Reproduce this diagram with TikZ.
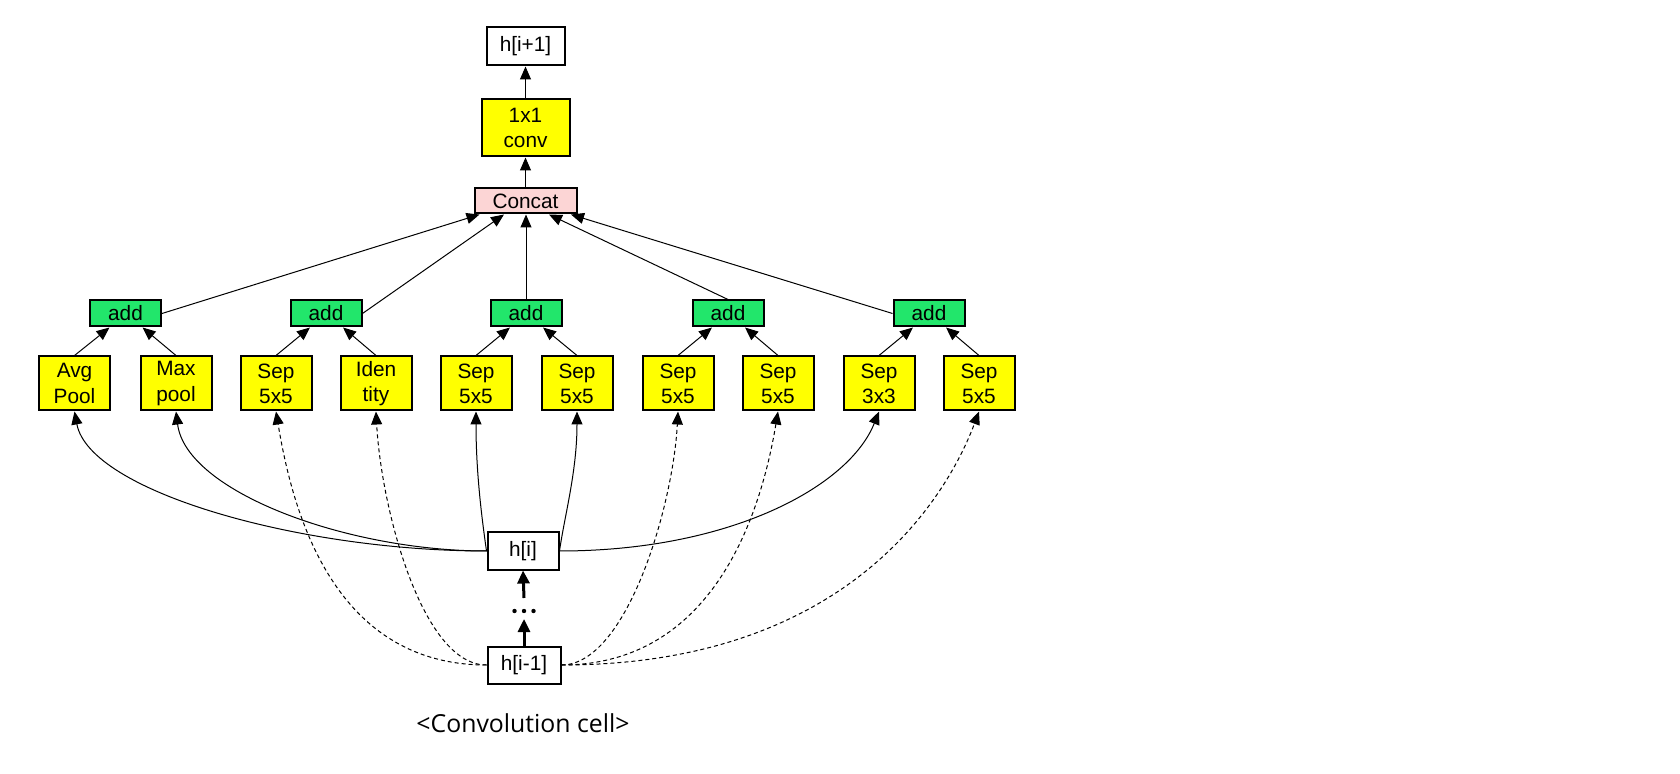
\documentclass[tikz,border=0pt]{standalone}
\usepackage{fontspec}
\setmainfont{Liberation Sans}
\newfontfamily\capfont{Open Sans}
\usetikzlibrary{arrows.meta,calc}
\definecolor{opyellow}{RGB}{255,255,0}
\definecolor{addgreen}{RGB}{34,230,107}
\definecolor{catpink}{RGB}{252,213,213}
\begin{document}
\begin{tikzpicture}[x=0.5pt,y=-0.5pt,
  box/.style={draw, line width=1pt, inner sep=0pt, align=center, font=\fontsize{10.4}{12.6}\selectfont},
  opbox/.style={box, fill=opyellow, minimum width=35.5pt, minimum height=27pt},
  addbox/.style={box, fill=addgreen, minimum width=35.5pt, minimum height=13pt},
  arr/.style={-{Triangle[length=6.5pt,width=5.5pt]}, line width=0.5pt},
  darr/.style={arr, dash pattern=on 2pt off 1.5pt},
  tarr/.style={-{Triangle[length=6.5pt,width=6pt]}, line width=1.5pt}
]
\useasboundingbox (0,0) rectangle (1680,774);

\node[box, minimum width=39pt, minimum height=19pt] (hip) at (525.5,46.5) {h[i+1]};
\node[box, fill=opyellow, minimum width=44pt, minimum height=28.5pt] (conv) at (525.5,128) {1x1\\conv};
\node[box, fill=catpink, minimum width=51pt, minimum height=12.5pt] (cat) at (525.5,201) {Concat};

\node[addbox] (a1) at (125.5,313.5) {add};
\node[addbox] (a2) at (326,313.5) {add};
\node[addbox] (a3) at (526,313.5) {add};
\node[addbox] (a4) at (728,313.5) {add};
\node[addbox] (a5) at (929,313.5) {add};

\node[opbox] (o1) at (74.5,383.5) {Avg\\Pool};
\node[opbox] (o2) at (176,383.5) {Max\\pool};
\node[opbox] (o3) at (276,383.5) {Sep\\5x5};
\node[opbox] (o4) at (376,383.5) {Iden\\tity};
\node[opbox] (o5) at (476,383.5) {Sep\\5x5};
\node[opbox] (o6) at (577,383.5) {Sep\\5x5};
\node[opbox] (o7) at (678,383.5) {Sep\\5x5};
\node[opbox] (o8) at (778,383.5) {Sep\\5x5};
\node[opbox] (o9) at (879,383.5) {Sep\\3x3};
\node[opbox] (o10) at (979,383.5) {Sep\\5x5};

\node[box, minimum width=35.5pt, minimum height=18.5pt] (hi) at (523,551) {h[i]};
\node[box, minimum width=36.5pt, minimum height=18.5pt] (him) at (524,665) {h[i-1]};

\node[font=\capfont\fontsize{12.4}{15}\selectfont] (cap) at (523,723) {<Convolution cell>};

% top chain
\draw[arr] (conv.north) -- (hip.south);
\draw[arr] (cat.north) -- (conv.south);

% adds to concat
\draw[arr] (a1.east) -- ($(cat.south)+(-46,0)$);
\draw[arr] (a2.east) -- ($(cat.south)+(-21.5,0)$);
\draw[arr] (a3.north) -- ($(cat.south)+(0.5,0)$);
\draw[arr] (a4.north) -- ($(cat.south)+(23.5,0)$);
\draw[arr] (a5.west) -- ($(cat.south)+(45.5,0)$);

% ops to adds
\draw[arr] (o1.north) -- ($(a1.south)+(-16,0)$);
\draw[arr] (o2.north) -- ($(a1.south)+(17,0)$);
\draw[arr] (o3.north) -- ($(a2.south)+(-16,0)$);
\draw[arr] (o4.north) -- ($(a2.south)+(17,0)$);
\draw[arr] (o5.north) -- ($(a3.south)+(-16,0)$);
\draw[arr] (o6.north) -- ($(a3.south)+(17,0)$);
\draw[arr] (o7.north) -- ($(a4.south)+(-16,0)$);
\draw[arr] (o8.north) -- ($(a4.south)+(17,0)$);
\draw[arr] (o9.north) -- ($(a5.south)+(-16,0)$);
\draw[arr] (o10.north) -- ($(a5.south)+(17,0)$);

% solid curves from h[i]
\draw[arr] (hi.west) .. controls +(-187,0) and +(15,80) .. (o1.south);
\draw[arr] (hi.west) .. controls +(-140,0) and +(10,80) .. (o2.south);
\draw[arr] (hi.west) .. controls +(-5,-35) and +(0,60) .. (o5.south);
\draw[arr] (hi.east) .. controls +(5,-35) and +(0,60) .. (o6.south);
\draw[arr] (hi.east) .. controls +(171,0) and +(-30,75) .. (o9.south);

% dashed curves from h[i-1]
\draw[darr] (him.west) .. controls +(-158,0) and +(15,90) .. (o3.south);
\draw[darr] (him.west) .. controls +(-65,0) and +(5,95) .. (o4.south);
\draw[darr] (him.east) .. controls +(65,0) and +(-5,95) .. (o7.south);
\draw[darr] (him.east) .. controls +(158,0) and +(-15,90) .. (o8.south);
\draw[darr] (him.east) .. controls +(291,0) and +(-30,80) .. (o10.south);

% h[i-1] ... h[i]
\coordinate (d1) at (524,598);
\coordinate (d2) at (524,619);
\draw[tarr] (him.north) -- (d2);
\draw[tarr] (d1) -- (hi.south);
\fill (514.5,611) circle (1.1pt);
\fill (524,611) circle (1.1pt);
\fill (533.5,611) circle (1.1pt);
\end{tikzpicture}
\end{document}
